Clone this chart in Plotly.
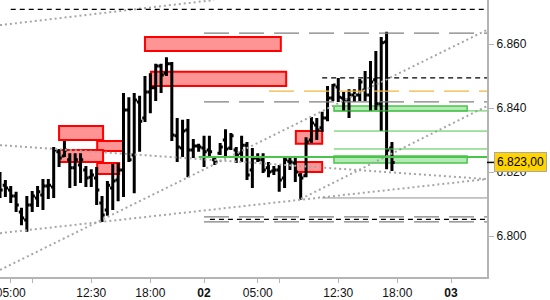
import plotly.graph_objects as go

# ---- OHLC data (30-minute bars, index positions) ----
bar_index = list(range(74))
opens = [6.8159, 6.8159, 6.8144, 6.8125, 6.8075, 6.8050, 6.8097, 6.8119, 6.8128, 6.8156,
         6.8153, 6.8263, 6.8250, 6.8238, 6.8213, 6.8222, 6.8206, 6.8184, 6.8181, 6.8103,
         6.8081, 6.8150, 6.8175, 6.8206, 6.8394, 6.8253, 6.8419, 6.8369, 6.8450, 6.8463,
         6.8531, 6.8509, 6.8538, 6.8313, 6.8275, 6.8331, 6.8269, 6.8281, 6.8275, 6.8269,
         6.8238, 6.8259, 6.8300, 6.8275, 6.8269, 6.8259, 6.8284, 6.8206, 6.8244, 6.8238,
         6.8213, 6.8203, 6.8206, 6.8181, 6.8234, 6.8228, 6.8191, 6.8188, 6.8300, 6.8347,
         6.8338, 6.8369, 6.8431, 6.8466, 6.8431, 6.8425, 6.8441, 6.8441, 6.8456, 6.8441,
         6.8488, 6.8413, 6.8606, 6.8275]
highs = [6.8200, 6.8175, 6.8156, 6.8138, 6.8088, 6.8125, 6.8141, 6.8156, 6.8178, 6.8178,
         6.8278, 6.8272, 6.8297, 6.8259, 6.8259, 6.8259, 6.8219, 6.8209, 6.8216, 6.8125,
         6.8172, 6.8225, 6.8228, 6.8447, 6.8434, 6.8447, 6.8438, 6.8500, 6.8509, 6.8538,
         6.8538, 6.8559, 6.8544, 6.8369, 6.8363, 6.8366, 6.8303, 6.8288, 6.8313, 6.8313,
         6.8244, 6.8291, 6.8334, 6.8322, 6.8278, 6.8313, 6.8294, 6.8275, 6.8259, 6.8259,
         6.8231, 6.8219, 6.8222, 6.8247, 6.8244, 6.8250, 6.8197, 6.8309, 6.8372, 6.8369,
         6.8388, 6.8469, 6.8475, 6.8494, 6.8450, 6.8459, 6.8459, 6.8491, 6.8516, 6.8547,
         6.8578, 6.8622, 6.8638, 6.8294]
lows = [6.8119, 6.8122, 6.8103, 6.8075, 6.8034, 6.8013, 6.8075, 6.8091, 6.8081, 6.8116,
        6.8119, 6.8216, 6.8247, 6.8150, 6.8156, 6.8166, 6.8153, 6.8153, 6.8097, 6.8044,
        6.8063, 6.8081, 6.8109, 6.8122, 6.8231, 6.8134, 6.8263, 6.8356, 6.8384, 6.8422,
        6.8447, 6.8500, 6.8297, 6.8231, 6.8247, 6.8184, 6.8244, 6.8263, 6.8216, 6.8247,
        6.8222, 6.8253, 6.8247, 6.8269, 6.8228, 6.8231, 6.8175, 6.8150, 6.8231, 6.8197,
        6.8184, 6.8191, 6.8138, 6.8150, 6.8206, 6.8169, 6.8113, 6.8184, 6.8291, 6.8300,
        6.8325, 6.8359, 6.8422, 6.8419, 6.8391, 6.8369, 6.8419, 6.8422, 6.8422, 6.8391,
        6.8394, 6.8328, 6.8209, 6.8203]
closes = [6.8144, 6.8150, 6.8125, 6.8097, 6.8056, 6.8097, 6.8125, 6.8138, 6.8156, 6.8159,
          6.8269, 6.8244, 6.8269, 6.8213, 6.8238, 6.8238, 6.8181, 6.8191, 6.8144, 6.8066,
          6.8159, 6.8172, 6.8206, 6.8394, 6.8238, 6.8425, 6.8359, 6.8450, 6.8463, 6.8531,
          6.8503, 6.8538, 6.8316, 6.8278, 6.8328, 6.8269, 6.8281, 6.8278, 6.8263, 6.8263,
          6.8231, 6.8278, 6.8272, 6.8313, 6.8253, 6.8284, 6.8191, 6.8244, 6.8238, 6.8206,
          6.8200, 6.8206, 6.8175, 6.8238, 6.8231, 6.8200, 6.8181, 6.8294, 6.8353, 6.8331,
          6.8369, 6.8431, 6.8472, 6.8434, 6.8425, 6.8441, 6.8441, 6.8481, 6.8441, 6.8481,
          6.8413, 6.8604, 6.8269, 6.8230]

# ---- axis ticks ----
x_tick_pos = [2, 6, 17, 28, 38, 48, 52, 63, 74, 84]
x_tick_text = ["05:00", "", "12:30", "18:00", "<b>02</b>", "05:00", "", "12:30", "18:00", "<b>03</b>"]
y_tick_vals = [6.800, 6.820, 6.840, 6.860]
last_price = 6.823
last_price_text = "6.823,00"

x_range = [0, 90.7]
y_range = [6.7872, 6.87375]

# ---- horizontal levels: price and first bar index ----
black_dash_prices = [6.8708, 6.8494, 6.8052]
black_dash_starts = [2.0, 60.0, 39.1]
gray_dash_prices = [6.8634, 6.8419, 6.8060, 6.8044]
gray_dash_starts = [38.0, 38.0, 38.0, 38.0]
orange_dash_prices = [6.8453]
orange_dash_starts = [50.1]
green_line_prices = [6.8391, 6.8328, 6.8272]
green_line_starts = [62.2, 62.2, 62.2]
green_main_prices = [6.8247]
green_main_starts = [37.0]
gray_solid_prices = [6.8119]
gray_solid_starts = [60.0]

# ---- zones ----
red_x0 = [27.0, 28.1, 11.0, 18.1, 11.0, 18.1, 55.1, 55.1]
red_x1 = [52.3, 53.3, 19.2, 23.1, 19.2, 22.2, 60.0, 60.0]
red_y0 = [6.8578, 6.8469, 6.8300, 6.8266, 6.8231, 6.8194, 6.8288, 6.8200]
red_y1 = [6.8622, 6.8513, 6.8344, 6.8297, 6.8269, 6.8228, 6.8328, 6.8231]
green_x0 = [62.2, 62.2]
green_x1 = [87.0, 87.0]
green_y0 = [6.8391, 6.8228]
green_y1 = [6.8406, 6.8250]

# ---- dotted trend lines ----
trend_x0 = [0.0, 0.0, 0.0, 0.0, 56.05]
trend_y0 = [6.8659, 6.8284, 6.8009, 6.7894, 6.8116]
trend_x1 = [39.85, 90.7, 90.7, 90.7, 90.7]
trend_y1 = [6.87375, 6.8178, 6.8178, 6.8644, 6.8406]

fig = go.Figure()

for xa, ya, xb, yb in zip(trend_x0, trend_y0, trend_x1, trend_y1):
    fig.add_trace(go.Scatter(x=[xa, xb], y=[ya, yb], mode="lines",
                             line=dict(color="#A6A6A6", width=2, dash="2px,3px"),
                             hoverinfo="skip", showlegend=False))

def add_levels(prices, starts, color, width, dash):
    for p, s in zip(prices, starts):
        fig.add_trace(go.Scatter(x=[s, x_range[1]], y=[p, p], mode="lines",
                                 line=dict(color=color, width=width, dash=dash),
                                 hoverinfo="skip", showlegend=False))

add_levels(gray_dash_prices, gray_dash_starts, "#808080", 1.3, "25px,10px")
add_levels(orange_dash_prices, orange_dash_starts, "#F2B640", 1.3, "25px,10px")
add_levels(black_dash_prices, black_dash_starts, "#000000", 1.3, "5px,4px")
add_levels(gray_solid_prices, gray_solid_starts, "#909090", 1, "solid")
add_levels(green_line_prices, green_line_starts, "#4CC44C", 1, "solid")
add_levels(green_main_prices, green_main_starts, "#4CC44C", 2, "solid")

shapes = []
for a, b, c, d in zip(red_x0, red_x1, red_y0, red_y1):
    shapes.append(dict(type="rect", xref="x", yref="y", x0=a, x1=b, y0=c, y1=d,
                       fillcolor="#FF9494", line=dict(color="#FF0000", width=2), layer="below"))
for a, b, c, d in zip(green_x0, green_x1, green_y0, green_y1):
    shapes.append(dict(type="rect", xref="x", yref="y", x0=a, x1=b, y0=c, y1=d,
                       fillcolor="#B4EAB4", line=dict(color="#4CC44C", width=1.5), layer="below"))
# tick mark for the last price label
shapes.append(dict(type="line", xref="paper", yref="y", x0=1, x1=1.015, y0=last_price, y1=last_price,
                   line=dict(color="#000000", width=1.5)))

fig.add_trace(go.Ohlc(x=bar_index, open=opens, high=highs, low=lows, close=closes,
                      increasing=dict(line=dict(color="#000000", width=3)),
                      decreasing=dict(line=dict(color="#000000", width=3)),
                      tickwidth=0.5, hoverinfo="skip", showlegend=False))

fig.update_layout(
    width=550, height=300,
    margin=dict(l=0, r=63, t=0, b=23),
    paper_bgcolor="white", plot_bgcolor="white",
    font=dict(family="Liberation Sans", size=12, color="#111111"),
    shapes=shapes,
    showlegend=False,
    xaxis=dict(range=x_range, tickmode="array", tickvals=x_tick_pos, ticktext=x_tick_text,
               showgrid=False, zeroline=False, showline=True, linecolor="#B4B4B4", linewidth=2,
               ticks="outside", ticklen=4, tickcolor="#B4B4B4", rangeslider=dict(visible=False),
               ticklabeloverflow="allow", automargin=False, fixedrange=True),
    yaxis=dict(range=y_range, side="right", tickmode="array", tickvals=y_tick_vals,
               tickformat=".3f", showgrid=False, zeroline=False, showline=True,
               linecolor="#B4B4B4", linewidth=2, ticks="outside", ticklen=5,
               tickcolor="#B4B4B4", automargin=False, fixedrange=True),
    annotations=[dict(x=1, xref="paper", y=last_price, yref="y", text=last_price_text,
                      showarrow=False, xanchor="left", yanchor="middle", xshift=7,
                      bgcolor="#FFD400", bordercolor="#A8A8A8", borderwidth=1, borderpad=2,
                      font=dict(family="Liberation Sans", size=12, color="#000000"))],
)

fig.write_html("out.html")
